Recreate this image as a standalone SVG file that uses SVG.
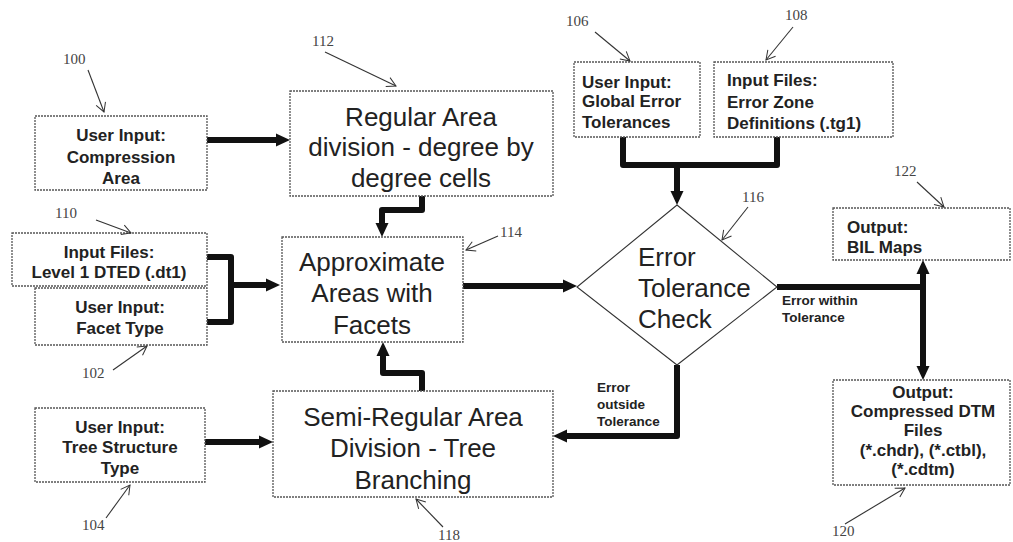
<svg xmlns="http://www.w3.org/2000/svg" width="1013" height="542" viewBox="0 0 1013 542">
<defs>
<marker id="ah" markerUnits="userSpaceOnUse" markerWidth="16" markerHeight="14" refX="6" refY="7" orient="auto-start-reverse">
<path d="M0,0.5 L14,7 L0,13.5 z" fill="#111"/>
</marker>
<marker id="la" markerUnits="userSpaceOnUse" markerWidth="12" markerHeight="12" refX="10" refY="6" orient="auto">
<path d="M1,1 L10,6 L1,11" fill="none" stroke="#333" stroke-width="1"/>
</marker>
</defs>
<style>
.box{fill:#fff;stroke:#555;stroke-width:1.3;stroke-dasharray:2 1}
.dia{fill:#fff;stroke:#333;stroke-width:1.1}
.s{font-family:"Liberation Sans",Arial,sans-serif;font-weight:bold;font-size:17px;fill:#222}
.b{font-family:"Liberation Sans",Arial,sans-serif;font-size:26px;fill:#222}
.e{font-family:"Liberation Sans",Arial,sans-serif;font-weight:bold;font-size:13.5px;fill:#222}
.n{font-family:"Liberation Serif","Times New Roman",serif;font-size:15px;fill:#444}
.c{fill:none;stroke:#111;stroke-width:6;stroke-linejoin:round}
.l{fill:none;stroke:#333;stroke-width:1.1}
.m{text-anchor:middle}
</style>
<rect width="1013" height="542" fill="#fff"/>

<g id="connectors">
<path class="c" d="M207,140 H282" marker-end="url(#ah)"/>
<path class="c" d="M422,196 V210 H382 V229" marker-end="url(#ah)"/>
<path class="c" d="M207,257 H231 V322 H207"/>
<path class="c" d="M231,285 H272" marker-end="url(#ah)"/>
<path class="c" d="M623,137 V165 H777 V137"/>
<path class="c" d="M677,165 V197" marker-end="url(#ah)"/>
<path class="c" d="M463,286 H569" marker-end="url(#ah)"/>
<path class="c" d="M777,287 H923"/>
<path class="c" d="M923,268 V372" marker-start="url(#ah)" marker-end="url(#ah)"/>
<path class="c" d="M677,365 V436 H561" marker-end="url(#ah)"/>
<path class="c" d="M205,442 H265" marker-end="url(#ah)"/>
<path class="c" d="M422,391 V373 H383 V350" marker-end="url(#ah)"/>
<text class="e" x="782" y="305">Error within</text>
<text class="e" x="782" y="322">Tolerance</text>
<text class="e" x="597" y="392">Error</text>
<text class="e" x="597" y="409">outside</text>
<text class="e" x="597" y="426">Tolerance</text>
</g>

<g id="n100">
<rect class="box" x="35" y="116" width="172" height="74"/>
<text class="s m" x="121" y="141">User Input:</text>
<text class="s m" x="121" y="163">Compression</text>
<text class="s m" x="121" y="184">Area</text>
<text class="n" x="63" y="64">100</text>
<path class="l" d="M88,70 L104,112" marker-end="url(#la)"/>
</g>

<g id="n112">
<rect class="box" x="290" y="91" width="263" height="105"/>
<text class="b m" x="421" y="126">Regular Area</text>
<text class="b m" x="421" y="156">division - degree by</text>
<text class="b m" x="421" y="187">degree cells</text>
<text class="n" x="312" y="46">112</text>
<path class="l" d="M325,52 L396,86" marker-end="url(#la)"/>
</g>

<g id="n106">
<rect class="box" x="574" y="62" width="126" height="75"/>
<text class="s" x="582" y="88">User Input:</text>
<text class="s" x="582" y="107">Global Error</text>
<text class="s" x="582" y="128">Tolerances</text>
<text class="n" x="566" y="26">106</text>
<path class="l" d="M595,32 L630,61" marker-end="url(#la)"/>
</g>

<g id="n108">
<rect class="box" x="714" y="62" width="179" height="75"/>
<text class="s" x="727" y="86">Input Files:</text>
<text class="s" x="727" y="108">Error Zone</text>
<text class="s" x="727" y="129">Definitions (.tg1)</text>
<text class="n" x="785" y="20">108</text>
<path class="l" d="M793,27 L766,60" marker-end="url(#la)"/>
</g>

<g id="n110">
<rect class="box" x="12" y="233" width="195" height="53"/>
<text class="s m" x="109" y="258">Input Files:</text>
<text class="s m" x="109" y="278">Level 1 DTED (.dt1)</text>
<text class="n" x="55" y="218">110</text>
<path class="l" d="M96,220 L131,233" marker-end="url(#la)"/>
</g>

<g id="n102">
<rect class="box" x="35" y="288" width="172" height="57"/>
<text class="s m" x="120" y="313">User Input:</text>
<text class="s m" x="120" y="334">Facet Type</text>
<text class="n" x="82" y="378">102</text>
<path class="l" d="M113,370 L147,346" marker-end="url(#la)"/>
</g>

<g id="n114">
<rect class="box" x="282" y="237" width="181" height="105"/>
<text class="b m" x="372" y="271">Approximate</text>
<text class="b m" x="372" y="302">Areas with</text>
<text class="b m" x="372" y="334">Facets</text>
<text class="n" x="500" y="237">114</text>
<path class="l" d="M498,236 L466,250" marker-end="url(#la)"/>
</g>

<g id="n116">
<polygon class="dia" points="677,205 777,287 677,365 577,287"/>
<text class="b" x="638" y="266">Error</text>
<text class="b" x="638" y="297">Tolerance</text>
<text class="b" x="638" y="328">Check</text>
<text class="n" x="742" y="202">116</text>
<path class="l" d="M748,207 L722,240" marker-end="url(#la)"/>
</g>

<g id="n122">
<rect class="box" x="833" y="208" width="177" height="52"/>
<text class="s" x="847" y="233">Output:</text>
<text class="s" x="847" y="253">BIL Maps</text>
<text class="n" x="894" y="176">122</text>
<path class="l" d="M917,182 L944,207" marker-end="url(#la)"/>
</g>

<g id="n120">
<rect class="box" x="833" y="380" width="177" height="105"/>
<text class="s m" x="923" y="398">Output:</text>
<text class="s m" x="923" y="417">Compressed DTM</text>
<text class="s m" x="923" y="436">Files</text>
<text class="s m" x="923" y="456">(*.chdr), (*.ctbl),</text>
<text class="s m" x="923" y="475">(*.cdtm)</text>
<text class="n" x="832" y="536">120</text>
<path class="l" d="M845,524 L905,488" marker-end="url(#la)"/>
</g>

<g id="n104">
<rect class="box" x="35" y="408" width="170" height="74"/>
<text class="s m" x="120" y="433">User Input:</text>
<text class="s m" x="120" y="453">Tree Structure</text>
<text class="s m" x="120" y="474">Type</text>
<text class="n" x="82" y="530">104</text>
<path class="l" d="M106,518 L130,485" marker-end="url(#la)"/>
</g>

<g id="n118">
<rect class="box" x="273" y="391" width="280" height="106"/>
<text class="b m" x="413" y="426">Semi-Regular Area</text>
<text class="b m" x="413" y="457">Division - Tree</text>
<text class="b m" x="413" y="489">Branching</text>
<text class="n" x="438" y="540">118</text>
<path class="l" d="M443,527 L416,499" marker-end="url(#la)"/>
</g>
</svg>
